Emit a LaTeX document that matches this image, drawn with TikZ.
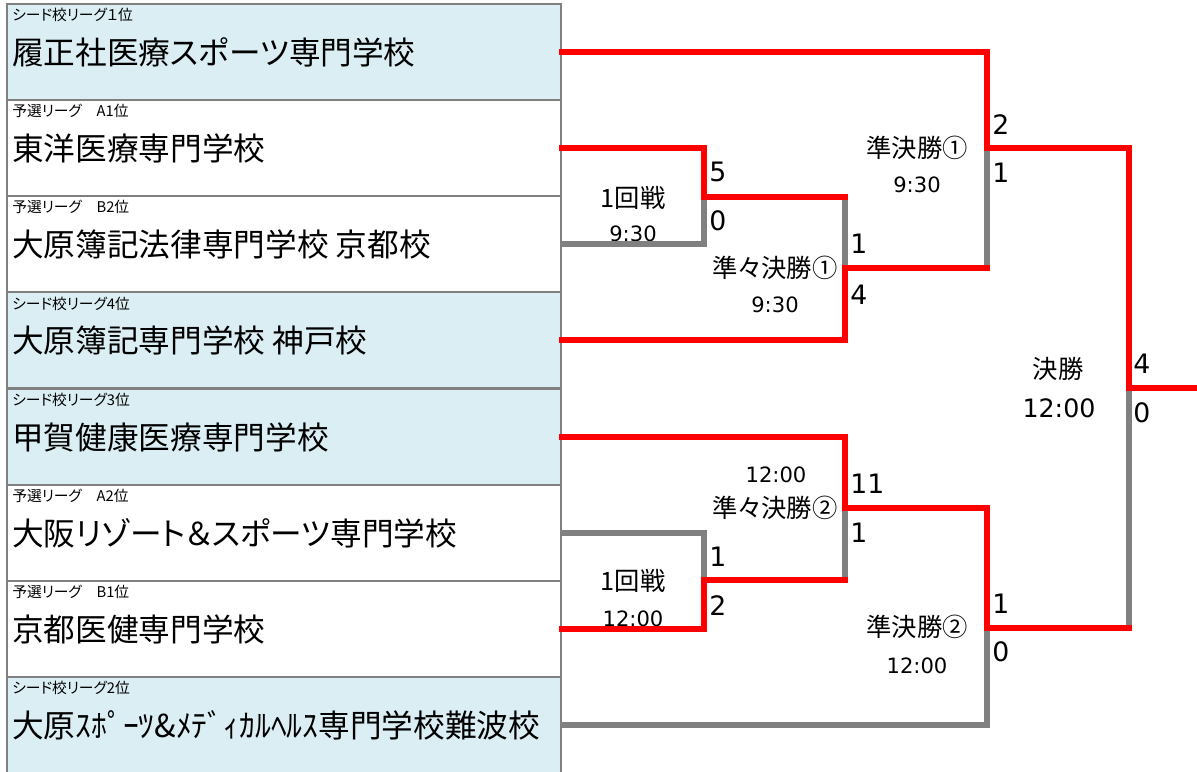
\documentclass[tikz,border=0pt]{standalone}
\usepackage{fontspec}
\newfontfamily\jp[RawFeature=+palt]{Noto Sans CJK JP}
\newfontfamily\dv{DejaVu Sans}
\definecolor{seedblue}{HTML}{DAEEF3}
\definecolor{linegray}{HTML}{808080}
\definecolor{winred}{HTML}{FF0000}
\begin{document}
\begin{tikzpicture}[x=0.025cm,y=-0.025cm,
  team/.style={draw=linegray,line width=2pt,minimum width=13.85cm,minimum height=2.4cm,inner sep=0},
  seedteam/.style={team,fill=seedblue},
  tag/.style={anchor=west,inner sep=0,font=\jp\fontsize{10.5}{12}\selectfont},
  school/.style={anchor=west,inner sep=0,font=\jp\fontsize{22.5}{26}\selectfont},
  score/.style={anchor=west,inner sep=0,font=\dv\fontsize{19}{22}\selectfont},
  round/.style={inner sep=0,font=\jp\fontsize{18}{22}\selectfont},
  time/.style={inner sep=0,font=\dv\fontsize{15}{18}\selectfont},
  lose/.style={draw=linegray,line width=3.6pt,line cap=rect},
  win/.style={draw=winred,line width=4.3pt,line cap=rect}]
\path[use as bounding box,fill=white] (0,0) rectangle (1197,771);

\node[seedteam] (t1) at (284,52) {};
\node[team] (t2) at (284,148) {};
\node[team] (t3) at (284,244) {};
\node[seedteam] (t4) at (284,340) {};
\node[seedteam] (t5) at (284,437) {};
\node[team] (t6) at (284,533) {};
\node[team] (t7) at (284,629) {};
\node[seedteam] (t8) at (284,725) {};

\node[tag] (g1) at (12,15) {シード校リーグ１位};
\node[tag] (g2) at (12,111) {予選リーグ　A1位};
\node[tag] (g3) at (12,207) {予選リーグ　B2位};
\node[tag] (g4) at (12,304) {シード校リーグ4位};
\node[tag] (g5) at (12,400) {シード校リーグ3位};
\node[tag] (g6) at (12,496) {予選リーグ　A2位};
\node[tag] (g7) at (12,592) {予選リーグ　B1位};
\node[tag] (g8) at (12,688) {シード校リーグ2位};

\node[school] (s1) at (12,52) {履正社医療スポーツ専門学校};
\node[school] (s2) at (12,148) {東洋医療専門学校};
\node[school] (s3) at (12,244) {大原簿記法律専門学校 京都校};
\node[school] (s4) at (12,340) {大原簿記専門学校 神戸校};
\node[school] (s5) at (12,437) {甲賀健康医療専門学校};
\node[school] (s6) at (12,533) {大阪リゾート＆スポーツ専門学校};
\node[school] (s7) at (12,629) {京都医健専門学校};
\node[school] (s8) at (12,725) {大原ｽﾎﾟｰﾂ\&ﾒﾃﾞｨｶﾙﾍﾙｽ専門学校難波校};

% match labels
\node[round] (r1a) at (633,198) {1回戦};
\node[time] (r1at) at (633,234) {9:30};
\node[round] (qf1l) at (775,268) {準々決勝①};
\node[time] (qf1t) at (775,305) {9:30};
\node[round] (sf1l) at (917,148) {準決勝①};
\node[time] (sf1t) at (917,185) {9:30};
\node[round] (finl) at (1058,369) {決勝};
\node[time,font=\dv\fontsize{18}{22}\selectfont] (fint) at (1059,408) {12:00};
\node[time] (qf2t) at (776,475) {12:00};
\node[round] (qf2l) at (775,508) {準々決勝②};
\node[round] (r1b) at (633,581) {1回戦};
\node[time] (r1bt) at (633,619) {12:00};
\node[round] (sf2l) at (917,627) {準決勝②};
\node[time] (sf2t) at (917,666) {12:00};

\coordinate (m1) at (704,197);
\coordinate (qf1) at (845,268);
\coordinate (sf1) at (987,148);
\coordinate (fin) at (1129,388);
\coordinate (qf2) at (845,508);
\coordinate (m2) at (704,580);
\coordinate (sf2) at (987,628);
\coordinate (champ) at (1210,388);

% losers
\draw[lose] (t3.east) -| (m1);
\draw[lose] (m1 -| qf1) -- (qf1);
\draw[lose] (qf1 -| sf1) -- (sf1);
\draw[lose] (t6.east) -| (m2);
\draw[lose] (m2 -| qf2) -- (qf2);
\draw[lose] (t8.east) -| (sf2);
\draw[lose] (sf2 -| fin) -- (fin);

% winners
\draw[win] (t2.east) -| (m1);
\draw[win] (m1) -- (m1 -| qf1);
\draw[win] (t4.east) -| (qf1);
\draw[win] (qf1) -- (qf1 -| sf1);
\draw[win] (t1.east) -| (sf1);
\draw[win] (sf1) -| (fin);
\draw[win] (t7.east) -| (m2);
\draw[win] (m2) -- (m2 -| qf2);
\draw[win] (t5.east) -| (qf2);
\draw[win] (qf2) -| (sf2);
\draw[win] (sf2) -- (sf2 -| fin);
\draw[win] (fin) -- (champ);

% scores
\node[score] (p1) at (709,172) {5};
\node[score] (p2) at (709,221) {0};
\node[score] (p3) at (850,244) {1};
\node[score] (p4) at (850,295) {4};
\node[score] (p5) at (992,125) {2};
\node[score] (p6) at (992,173) {1};
\node[score] (p7) at (1133,364) {4};
\node[score] (p8) at (1133,413) {0};
\node[score] (p9) at (850,484) {11};
\node[score] (p10) at (850,533) {1};
\node[score] (p11) at (709,557) {1};
\node[score] (p12) at (709,606) {2};
\node[score] (p13) at (992,604) {1};
\node[score] (p14) at (992,652) {0};
\end{tikzpicture}
\end{document}
